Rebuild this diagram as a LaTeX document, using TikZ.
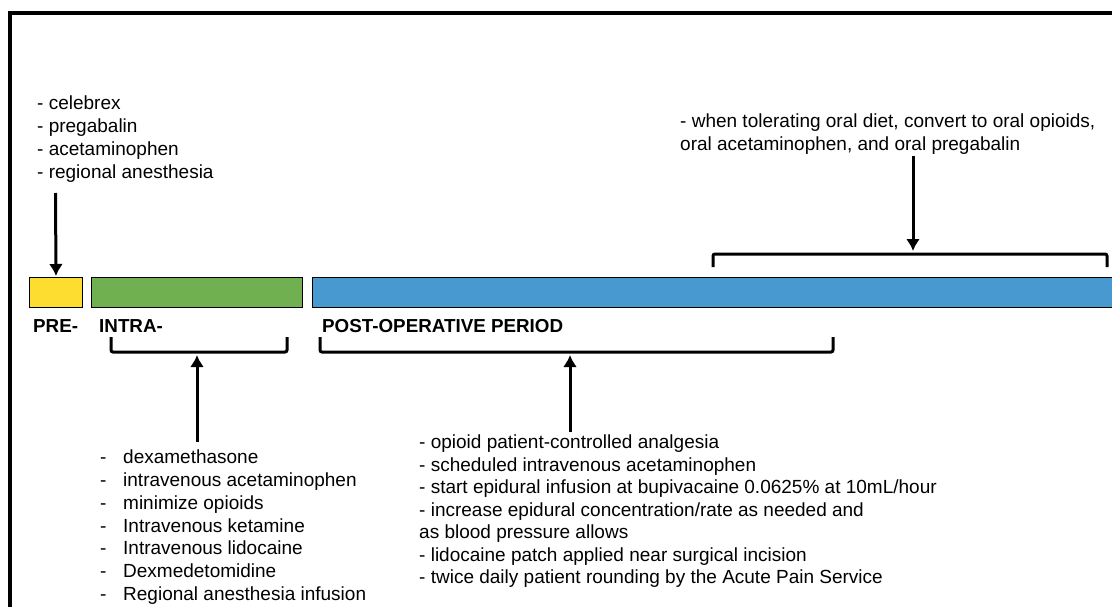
\documentclass[tikz,border=0pt]{standalone}
\usepackage{fontspec}
\setmainfont{Liberation Sans}
\usetikzlibrary{arrows.meta,positioning,calc}
\definecolor{PreColor}{RGB}{253,222,48}
\definecolor{IntraColor}{RGB}{112,176,80}
\definecolor{PostColor}{RGB}{72,153,208}
\newcommand{\itemdash}{\makebox[23pt][l]{-}}

\begin{document}
\begin{tikzpicture}[x=1pt,y=-1pt,
    bar/.style={draw=black, line width=1pt, inner sep=0pt, minimum height=30pt, anchor=north west},
    phase/.style={font=\fontsize{18.8}{22}\selectfont\bfseries, inner sep=0pt, anchor=base west},
    items/.style={font=\fontsize{19}{22.7}\selectfont, align=left, inner sep=0pt, anchor=north west},
    brkt/.style={line width=3pt, rounded corners=2pt},
    arr/.style={-{Latex[length=12pt,width=14pt]}, line width=3pt, shorten >=1pt}]
  \useasboundingbox (0,0) rectangle (1112,607);
  \clip (0,0) rectangle (1112,607);
  \fill[white] (0,0) rectangle (1112,607);
  \draw[line width=3.5pt] (10,13) rectangle (1130,625);

  \node[bar, fill=PreColor, minimum width=53pt] (pre) at (29,277) {};
  \node[bar, fill=IntraColor, minimum width=211pt] (intra) at (91,277) {};
  \node[bar, fill=PostColor, minimum width=810pt] (post) at (312,277) {};

  \node[phase] (preLbl) at (33,332) {PRE-};
  \node[phase] (intraLbl) at (99,332) {INTRA-};
  \node[phase] (postLbl) at (322,332) {POST-OPERATIVE PERIOD};

  \node[items] (preList) at (37,96) {- celebrex\\- pregabalin\\- acetaminophen\\- regional anesthesia};
  \node[items] (laterList) at (680,114) {- when tolerating oral diet, convert to oral opioids,\\oral acetaminophen, and oral pregabalin};
  \node[items] (intraList) at (100,450) {\itemdash dexamethasone\\\itemdash intravenous acetaminophen\\\itemdash minimize opioids\\\itemdash Intravenous ketamine\\\itemdash Intravenous lidocaine\\\itemdash Dexmedetomidine\\\itemdash Regional anesthesia infusion};
  \node[items, font=\fontsize{19}{22.5}\selectfont] (postList) at (419,435) {- opioid patient-controlled analgesia\\- scheduled intravenous acetaminophen\\- start epidural infusion at bupivacaine 0.0625\% at 10mL/hour\\- increase epidural concentration/rate as needed and\\as blood pressure allows\\- lidocaine patch applied near surgical incision\\- twice daily patient rounding by the Acute Pain Service};

  \coordinate (laterBrkt) at (913,254);
  \coordinate (intraBrkt) at (197,352);
  \coordinate (postBrkt) at (570,352);
  \draw[brkt] (713,267) |- (laterBrkt) -| (1107,267);
  \draw[brkt] (111,337) |- (intraBrkt) -| (287,337);
  \draw[brkt] (320,337) |- (postBrkt) -| (833,337);

  \coordinate (preTail) at (55.5,193);
  \coordinate (laterTail) at (913,156);
  \coordinate (intraTail) at (197,442);
  \coordinate (postTail) at (570,432);
  \draw[arr] (preTail) -- (pre.north);
  \draw[arr] (laterTail) -- ($(laterBrkt)+(0,-2)$);
  \draw[arr] (intraTail) -- ($(intraBrkt)+(0,2)$);
  \draw[arr] (postTail) -- ($(postBrkt)+(0,2)$);
\end{tikzpicture}
\end{document}
